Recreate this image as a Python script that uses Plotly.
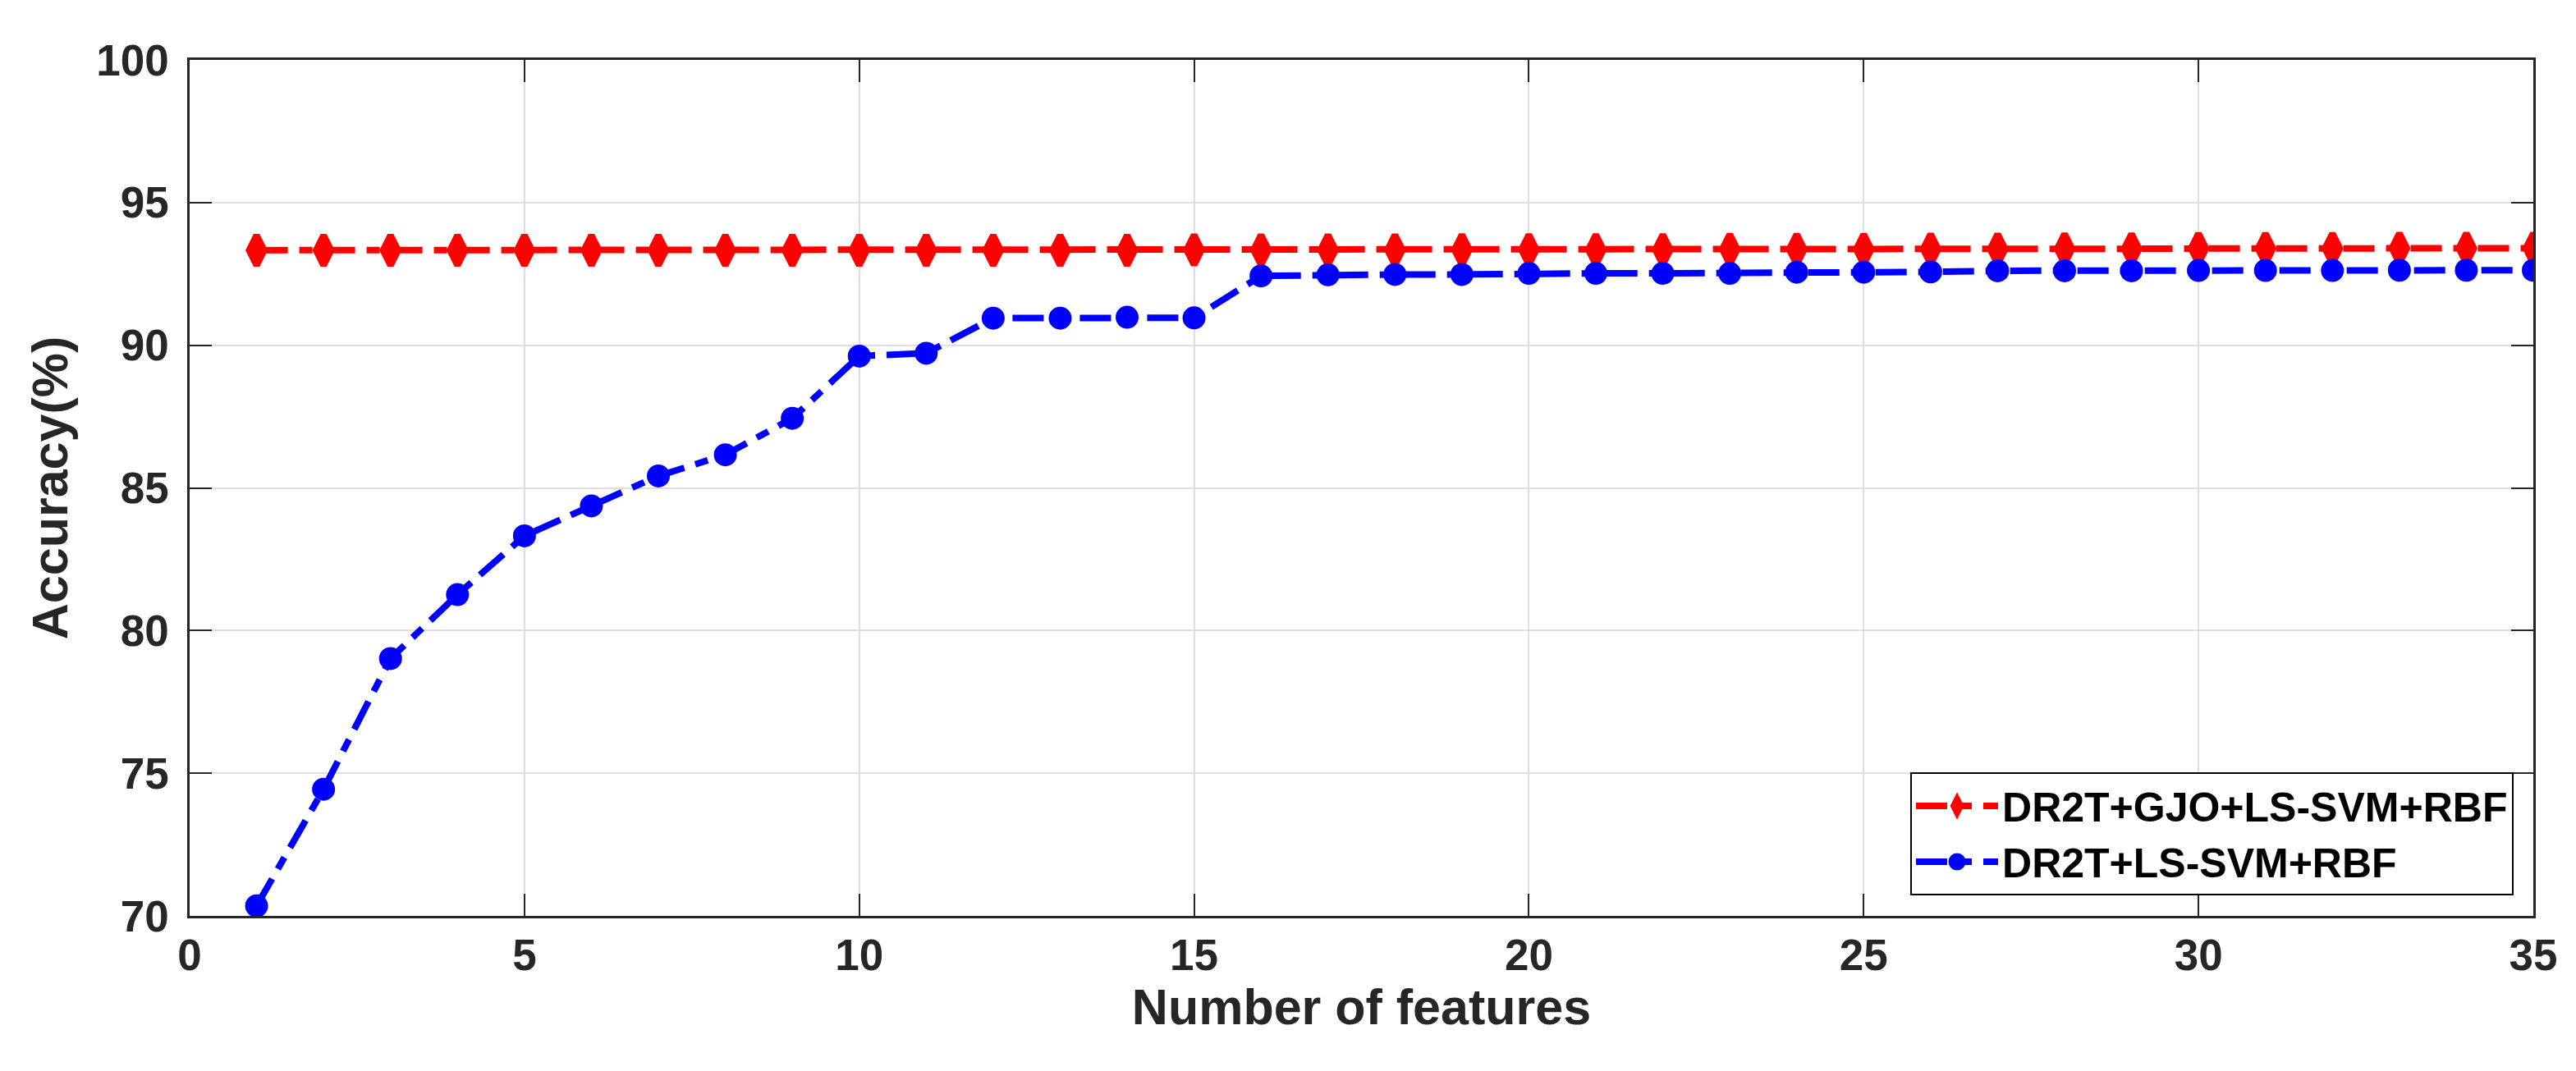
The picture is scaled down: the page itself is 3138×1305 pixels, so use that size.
"""
Accuracy vs. number of selected features for the two LS-SVM (RBF) pipelines.
Writes out.html with a single Plotly line chart.
"""

import plotly.graph_objects as go

# ----- data -----
SO_DAC_TRUNG = list(range(1, 36))  # number of features 1..35

ACC_GJO = [
    93.33, 93.33, 93.33, 93.33, 93.33, 93.33, 93.33, 93.33, 93.33, 93.33,
    93.33, 93.33, 93.33, 93.33, 93.34, 93.34, 93.34, 93.34, 93.35, 93.35,
    93.35, 93.35, 93.36, 93.36, 93.36, 93.37, 93.37, 93.38, 93.38, 93.39,
    93.39, 93.39, 93.40, 93.40, 93.40,
]
ACC_KHONG_GJO = [
    70.35, 74.44, 79.02, 81.26, 83.32, 84.37, 85.42, 86.16, 87.44, 89.62,
    89.72, 90.95, 90.95, 90.98, 90.96, 92.43, 92.47, 92.48, 92.48, 92.52,
    92.52, 92.52, 92.52, 92.56, 92.56, 92.57, 92.61, 92.61, 92.61, 92.62,
    92.62, 92.62, 92.63, 92.63, 92.63,
]
TEN_GJO = "DR2T+GJO+LS-SVM+RBF"
TEN_KHONG_GJO = "DR2T+LS-SVM+RBF"

# ----- style -----
FONT = "Liberation Sans, Arial, sans-serif"
MAU_CHU = "#262626"
MAU_LUOI = "#dfdfdf"
NET_GACH = "38px,14px,16px,14px"  # dash-dot like MATLAB '-.'

fig = go.Figure()
fig.add_trace(go.Scatter(
    x=SO_DAC_TRUNG, y=ACC_GJO, name=TEN_GJO, mode="lines+markers",
    line=dict(color="#ff0000", width=8, dash=NET_GACH),
    marker=dict(symbol="diamond-tall", size=26, color="#ff0000",
                line=dict(color="#ff0000", width=8)),
))
fig.add_trace(go.Scatter(
    x=SO_DAC_TRUNG, y=ACC_KHONG_GJO, name=TEN_KHONG_GJO, mode="lines+markers",
    line=dict(color="#0000ff", width=8, dash=NET_GACH),
    marker=dict(symbol="circle", size=22, color="#0000ff",
                line=dict(color="#0000ff", width=6)),
))

truc = dict(
    showline=True, linecolor=MAU_CHU, linewidth=2.5, mirror="ticks",
    ticks="inside", ticklen=27, tickwidth=2, tickcolor=MAU_CHU,
    showgrid=True, gridcolor=MAU_LUOI, gridwidth=2, zeroline=False,
    tickfont=dict(family=FONT, size=53, color=MAU_CHU, weight="bold"),
)

fig.update_xaxes(
    **truc, range=[0, 35], dtick=5, tick0=0,
    title=dict(text="Number of features", standoff=12,
               font=dict(family=FONT, size=61, color=MAU_CHU, weight="bold")),
)
fig.update_yaxes(
    **truc, range=[70, 100], dtick=5, tick0=70, ticklabelstandoff=12,
    title=dict(text="Accuracy(%)", standoff=15,
               font=dict(family=FONT, size=61, color=MAU_CHU, weight="bold")),
)

fig.update_layout(
    width=3138, height=1305,
    margin=dict(l=223, r=60, t=65, b=197, autoexpand=False),
    plot_bgcolor="white", paper_bgcolor="white",
    showlegend=True,
    legend=dict(
        x=0.9916, y=0.024, xanchor="right", yanchor="bottom",
        bgcolor="white", bordercolor="#000000", borderwidth=2,
        font=dict(family=FONT, size=50, color="#000000", weight="bold"),
        itemwidth=100, tracegroupgap=0,
    ),
)

fig.write_html("out.html")
